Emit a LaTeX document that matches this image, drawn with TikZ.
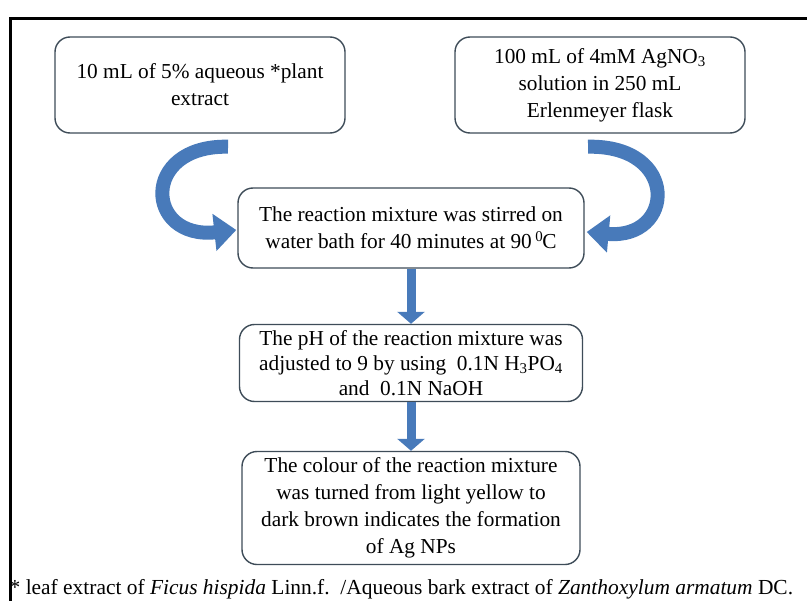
\documentclass[tikz,border=0pt]{standalone}
\usepackage{fontspec}
\setmainfont{Liberation Serif}
\usetikzlibrary{arrows.meta}

\definecolor{arrowblue}{RGB}{72,122,186}
\definecolor{boxline}{RGB}{62,76,88}

\begin{document}
\begin{tikzpicture}
	 [x=1bp,y=-1bp,every node/.style={draw=boxline,line width=1.4bp,rounded corners=15bp,fill=white,align=center,inner sep=2bp,font=\fontsize{21.4}{27}\selectfont}]
	\useasboundingbox (0,0) rectangle (807,601);
	\clip (0,0) rectangle (807,601);
	\fill[white] (0,0) rectangle (807,601);
	\draw[line width=3bp] (10,700) -- (10,19) -- (840,19);

	\node[minimum width=290bp,minimum height=96bp] (p1) at (200,85) {10 mL of 5\% aqueous *plant\\extract};
	  \node[minimum width=290bp,minimum height=96bp] (p2) at (600,85) {100 mL of 4mM AgNO\textsubscript{3}\\solution in 250 mL\\Erlenmeyer flask};
	  \node[minimum width=346bp,minimum height=80bp] (p3) at (411,228) {The reaction mixture was stirred on\\water bath for 40 minutes at 90\,\textsuperscript{0}\kern-1pt C};
	  \node[minimum width=343bp,minimum height=77bp,font=\fontsize{21.4}{25}\selectfont] (p4) at (411,363) {The pH of the reaction mixture was\\adjusted to 9 by using\ \ 0.1N H\textsubscript{3}PO\textsubscript{4}\\and\ \ 0.1N NaOH};
	  \node[minimum width=338bp,minimum height=113bp] (p5) at (411,508) {The colour of the reaction mixture\\was turned from light yellow to\\dark brown indicates the formation\\of Ag NPs};

   	  \node[draw=none,fill=none,anchor=base west,inner sep=0pt,font=\fontsize{21.5}{27}\selectfont] (L1) at (9,594) {* leaf extract of \textit{Ficus hispida} Linn.f.\ \ /Aqueous bark extract of \textit{Zanthoxylum armatum} DC.};

	\foreach \from/\to in {p3/p4,p4/p5}
    \draw[arrowblue,line width=9bp,-{Triangle[width=27bp,length=12bp]}] (\from) -- (\to);

	\draw[arrowblue,line width=14bp,-{Triangle[width=36bp,length=22bp]}] ([shift={(28,13)}]p1.south) .. controls (140,145) and (145,240) .. ([shift={(-1,2)}]p3.west);
	\draw[arrowblue,line width=14bp,-{Triangle[width=36bp,length=22bp]}] ([shift={(-12,13)}]p2.south) .. controls (680,145) and (675,240) .. ([shift={(2,4)}]p3.east);

\end{tikzpicture}
\end{document}
